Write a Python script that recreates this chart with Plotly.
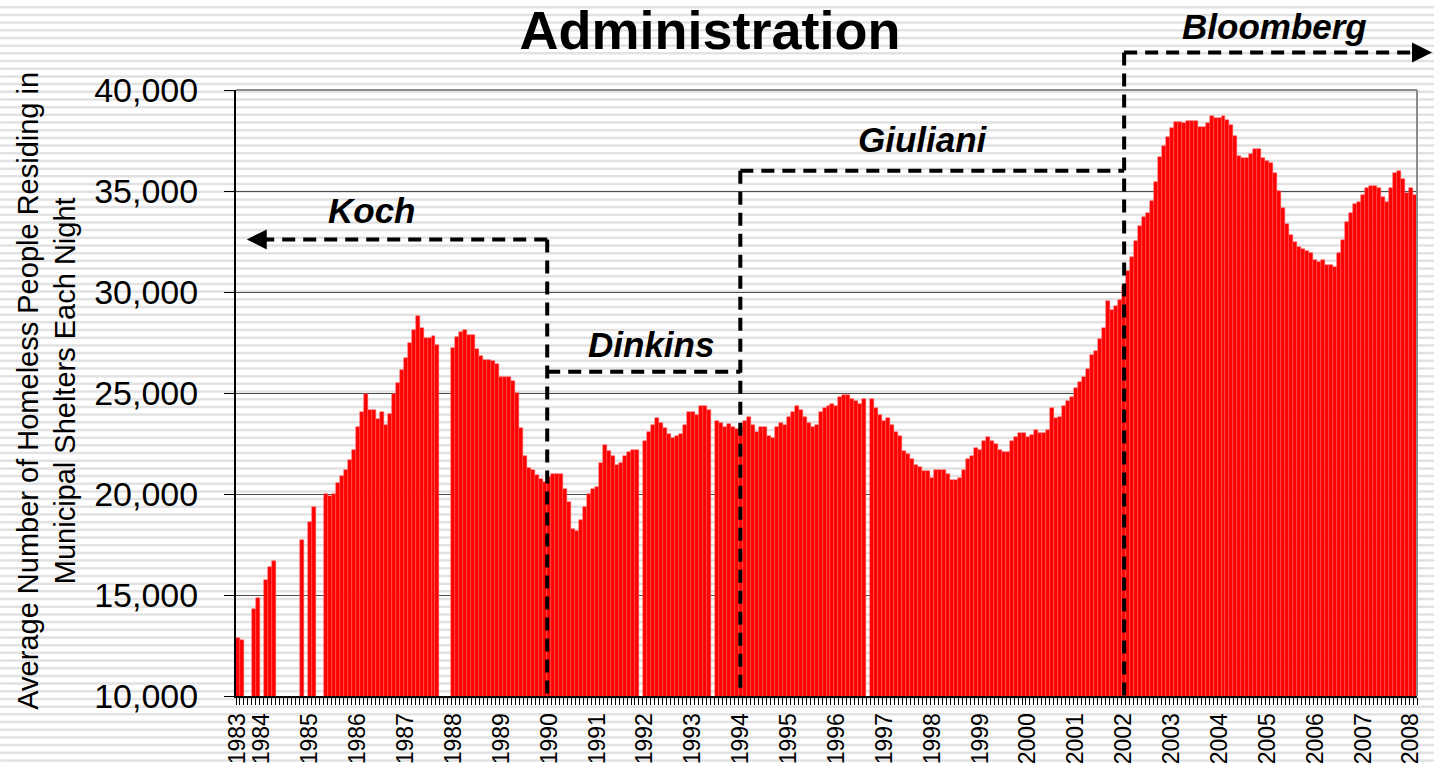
import plotly.graph_objects as go

# ---------------- data (monthly, starting July 1983) ----------------
START_YEAR = 1983
START_MONTH = 7

census_1983 = [12850, 12750, None, None, 14300, 14850]
census_1984 = [None, 15750, 16400, 16700, None, None, None, None, None, None, 17700, None]
census_1985 = [18600, 19370, None, None, 20000, 19920, 20000, 20540, 20880, 21210, 21670, 22190]
census_1986 = [23300, 24070, 24950, 24180, 24180, 23730, 24070, 23410, 23970, 24930, 25500, 26140]
census_1987 = [26720, 27470, 28120, 28790, 28240, 27700, 27700, 27800, 27370, None, None, None]
census_1988 = [27220, 27780, 28000, 28100, 27880, 27880, 27200, 26850, 26650, 26650, 26580, 26440]
census_1989 = [25780, 25780, 25780, 25570, 25000, 23280, 21880, 21310, 21210, 20950, 20720, 20570]
census_1990 = [20850, 21000, 21000, 21000, 20230, 19580, 18270, 18170, 18720, 19370, 20020, 20240]
census_1991 = [20340, 21550, 22410, 22120, 21860, 21440, 21550, 21880, 22090, 22200, 22200, None]
census_1992 = [22640, 23060, 23410, 23740, 23530, 23280, 22960, 22770, 22850, 22960, 23410, 24050]
census_1993 = [24050, 23930, 24380, 24380, 24170, None, 23620, 23530, 23300, 23490, 23300, 23200]
census_1994 = [23300, 23620, 23830, 23400, 23090, 23300, 23300, 22880, 22770, 23300, 23510, 23410]
census_1995 = [23830, 24050, 24380, 24160, 23830, 23530, 23300, 23410, 24050, 24270, 24380, 24480]
census_1996 = [24370, 24810, 24920, 24920, 24710, 24600, 24480, 24690, None, 24690, 24270, 23930]
census_1997 = [23620, 23740, 23410, 23090, 22850, 22150, 21960, 21730, 21440, 21330, 21120, 21120]
census_1998 = [20790, 21210, 21210, 21210, 20990, 20680, 20680, 20780, 21200, 21730, 21860, 22280]
census_1999 = [22170, 22600, 22820, 22600, 22500, 22160, 22070, 22070, 22600, 22820, 23040, 23040]
census_2000 = [22820, 22940, 23150, 23040, 23040, 23150, 24260, 23760, 23800, 24370, 24580, 24790]
census_2001 = [25230, 25560, 25800, 26210, 26880, 27100, 27660, 28200, 29540, 29110, 29330, 29620]
census_2002 = [30280, 31050, 31720, 32520, 33260, 33720, 33930, 34490, 35470, 36670, 37240, 37690]
census_2003 = [38110, 38420, 38420, 38360, 38460, 38450, 38470, 38170, 38170, 38390, 38720, 38620]
census_2004 = [38620, 38720, 38500, 38260, 37710, 36710, 36610, 36610, 36830, 37060, 37060, 36610]
census_2005 = [36500, 36380, 35910, 35020, 34140, 33360, 32810, 32480, 32240, 32110, 32030, 31910]
census_2006 = [31580, 31480, 31580, 31360, 31360, 31250, 31910, 32570, 33470, 33920, 34350, 34470]
census_2007 = [34800, 35130, 35250, 35250, 35130, 34680, 34470, 35130, 35910, 36010, 35580, 34920]
census_2008 = [35130, 34800]

yearly_census = [census_1983, census_1984, census_1985, census_1986, census_1987,
                 census_1988, census_1989, census_1990, census_1991, census_1992,
                 census_1993, census_1994, census_1995, census_1996, census_1997,
                 census_1998, census_1999, census_2000, census_2001, census_2002,
                 census_2003, census_2004, census_2005, census_2006, census_2007,
                 census_2008]

administrations = ["Koch", "Dinkins", "Giuliani", "Bloomberg"]
admin_start = [None, (1990, 1), (1994, 1), (2002, 1)]

y_ticks = [10000, 15000, 20000, 25000, 30000, 35000, 40000]

title_text = "Administration"
y_title = "Average Number of Homeless People Residing in<br>Municipal Shelters Each Night"

# ---------------- build series ----------------
values = [v for yr in yearly_census for v in yr]
months = []
yy, mm = START_YEAR, START_MONTH
for _ in values:
    months.append((yy, mm))
    mm += 1
    if mm > 12:
        mm = 1
        yy += 1
month_idx = list(range(len(values)))

tick_idx = [i for i, (a, b) in enumerate(months) if b == 1 or i == 0]
tick_txt = [str(months[i][0]) for i in tick_idx]


def boundary(ym):
    return months.index(ym) - 0.5


b_dinkins = boundary(admin_start[1])
b_giuliani = boundary(admin_start[2]) + 0.4
b_bloomberg = boundary(admin_start[3]) + 0.6

# ---------------- figure ----------------
W, H = 1435, 776
ML, MR, MT, MB = 236, 17, 90, 71
PW, PH = W - ML - MR, H - MT - MB
FONT = "Liberation Sans, Arial, sans-serif"

fig = go.Figure()
fig.add_trace(go.Bar(
    x=month_idx, y=values,
    marker=dict(color="#FF0000", line=dict(color="#ff5a5a", width=0.5)),
    hoverinfo="skip",
))

shapes = []
# striped background
x0p, x1p = -ML / PW, (W - ML) / PW
k = 0
while True:
    py = 6 + 7.8 * k
    if py > H:
        break
    yp = (H - MB - py) / PH
    shapes.append(dict(type="line", xref="paper", yref="paper", x0=x0p, x1=x1p,
                       y0=yp, y1=yp, line=dict(color="#e2e2e2", width=2.5), layer="below"))
    k += 1

# plot border (top / right)
shapes.append(dict(type="line", xref="paper", yref="paper", x0=0, x1=1, y0=1, y1=1,
                   line=dict(color="#8c8c8c", width=2), layer="above"))
shapes.append(dict(type="line", xref="paper", yref="paper", x0=1, x1=1, y0=0, y1=1,
                   line=dict(color="#8c8c8c", width=2), layer="above"))

DASH = dict(color="black", width=4, dash="13px,8px")
KOCH_Y, DINKINS_Y, GIULIANI_Y = 32600, 26050, 36000
BLOOM_YP = (H - MB - 52) / PH

# Koch
shapes.append(dict(type="line", xref="x", yref="y", x0=b_dinkins, x1=4.6,
                   y0=KOCH_Y, y1=KOCH_Y, line=DASH, layer="above"))
shapes.append(dict(type="line", xref="x", yref="y", x0=b_dinkins, x1=b_dinkins,
                   y0=KOCH_Y, y1=10000, line=DASH, layer="above"))
# Dinkins
shapes.append(dict(type="line", xref="x", yref="y", x0=b_dinkins, x1=b_giuliani,
                   y0=DINKINS_Y, y1=DINKINS_Y, line=DASH, layer="above"))
# Giuliani
shapes.append(dict(type="line", xref="x", yref="y", x0=b_giuliani, x1=b_giuliani,
                   y0=GIULIANI_Y, y1=10000, line=DASH, layer="above"))
shapes.append(dict(type="line", xref="x", yref="y", x0=b_giuliani, x1=b_bloomberg,
                   y0=GIULIANI_Y, y1=GIULIANI_Y, line=DASH, layer="above"))
# Bloomberg
shapes.append(dict(type="line", xref="x", yref="paper", x0=b_bloomberg, x1=b_bloomberg,
                   y0=BLOOM_YP, y1=0, line=DASH, layer="above"))
shapes.append(dict(type="line", xref="x", yref="paper", x0=b_bloomberg, x1=len(values) - 0.5,
                   y0=BLOOM_YP, y1=BLOOM_YP, line=DASH, layer="above"))

ann_font = dict(family=FONT, size=35, color="black")
annotations = [
    dict(x=33.6, y=34050, xref="x", yref="y", text="<b><i>" + administrations[0] + "</i></b>",
         showarrow=False, font=ann_font, xanchor="center", yanchor="middle"),
    dict(x=103.4, y=27410, xref="x", yref="y", text="<b><i>" + administrations[1] + "</i></b>",
         showarrow=False, font=ann_font, xanchor="center", yanchor="middle"),
    dict(x=171.8, y=37560, xref="x", yref="y", text="<b><i>" + administrations[2] + "</i></b>",
         showarrow=False, font=ann_font, xanchor="center", yanchor="middle"),
    dict(x=259.8, y=(H - MB - 26) / PH, xref="x", yref="paper",
         text="<b><i>" + administrations[3] + "</i></b>", showarrow=False, font=ann_font,
         xanchor="center", yanchor="middle"),
    # arrow heads
    dict(x=2.2, y=KOCH_Y, xref="x", yref="y", text="", showarrow=True,
         ax=22, ay=0, arrowhead=2, arrowsize=1.0, arrowwidth=4, arrowcolor="black"),
    dict(x=(1433 - ML) / PW, y=BLOOM_YP, xref="paper", yref="paper", text="", showarrow=True,
         ax=-18, ay=0, arrowhead=2, arrowsize=1.0, arrowwidth=4, arrowcolor="black"),
    # y-axis title
    dict(x=(46 - ML) / PW, y=(H - MB - 395) / PH, xref="paper", yref="paper",
         xanchor="center", yanchor="middle",
         text=y_title, textangle=-90, showarrow=False,
         font=dict(family=FONT, size=29, color="black"), align="center"),
]

fig.update_layout(
    width=W, height=H,
    margin=dict(l=ML, r=MR, t=MT, b=MB, pad=0),
    paper_bgcolor="white",
    plot_bgcolor="rgba(0,0,0,0)",
    bargap=0,
    showlegend=False,
    font=dict(family=FONT, color="black"),
    title=dict(text="<b>" + title_text + "</b>", x=710 / W, xanchor="center",
               y=1 - 30 / H, yanchor="middle",
               font=dict(family=FONT, size=54, color="black")),
    shapes=shapes,
    annotations=annotations,
    xaxis=dict(
        range=[-0.5, len(values) - 0.5],
        tickmode="array", tickvals=tick_idx, ticktext=tick_txt,
        tickangle=-90, ticks="", ticklabelstandoff=6,
        tickfont=dict(family=FONT, size=23, color="black"),
        showline=True, linecolor="black", linewidth=2,
        showgrid=False, zeroline=False,
        minor=dict(tickmode="linear", tick0=0.5, dtick=1, ticks="outside",
                   ticklen=7, tickcolor="black", tickwidth=1, showgrid=False),
    ),
    yaxis=dict(
        range=[10000, 40000],
        tickmode="array", tickvals=y_ticks, tickformat=",",
        ticks="outside", ticklen=10, tickcolor="black", tickwidth=1,
        ticklabelstandoff=19,
        tickfont=dict(family=FONT, size=34, color="black"),
        showline=True, linecolor="black", linewidth=2,
        showgrid=True, gridcolor="#4d4d4d", gridwidth=1.2,
        zeroline=False,
    ),
)

fig.write_html("out.html", config={"displayModeBar": False},
               post_script="document.body.style.margin='0';document.body.style.overflow='hidden';")
